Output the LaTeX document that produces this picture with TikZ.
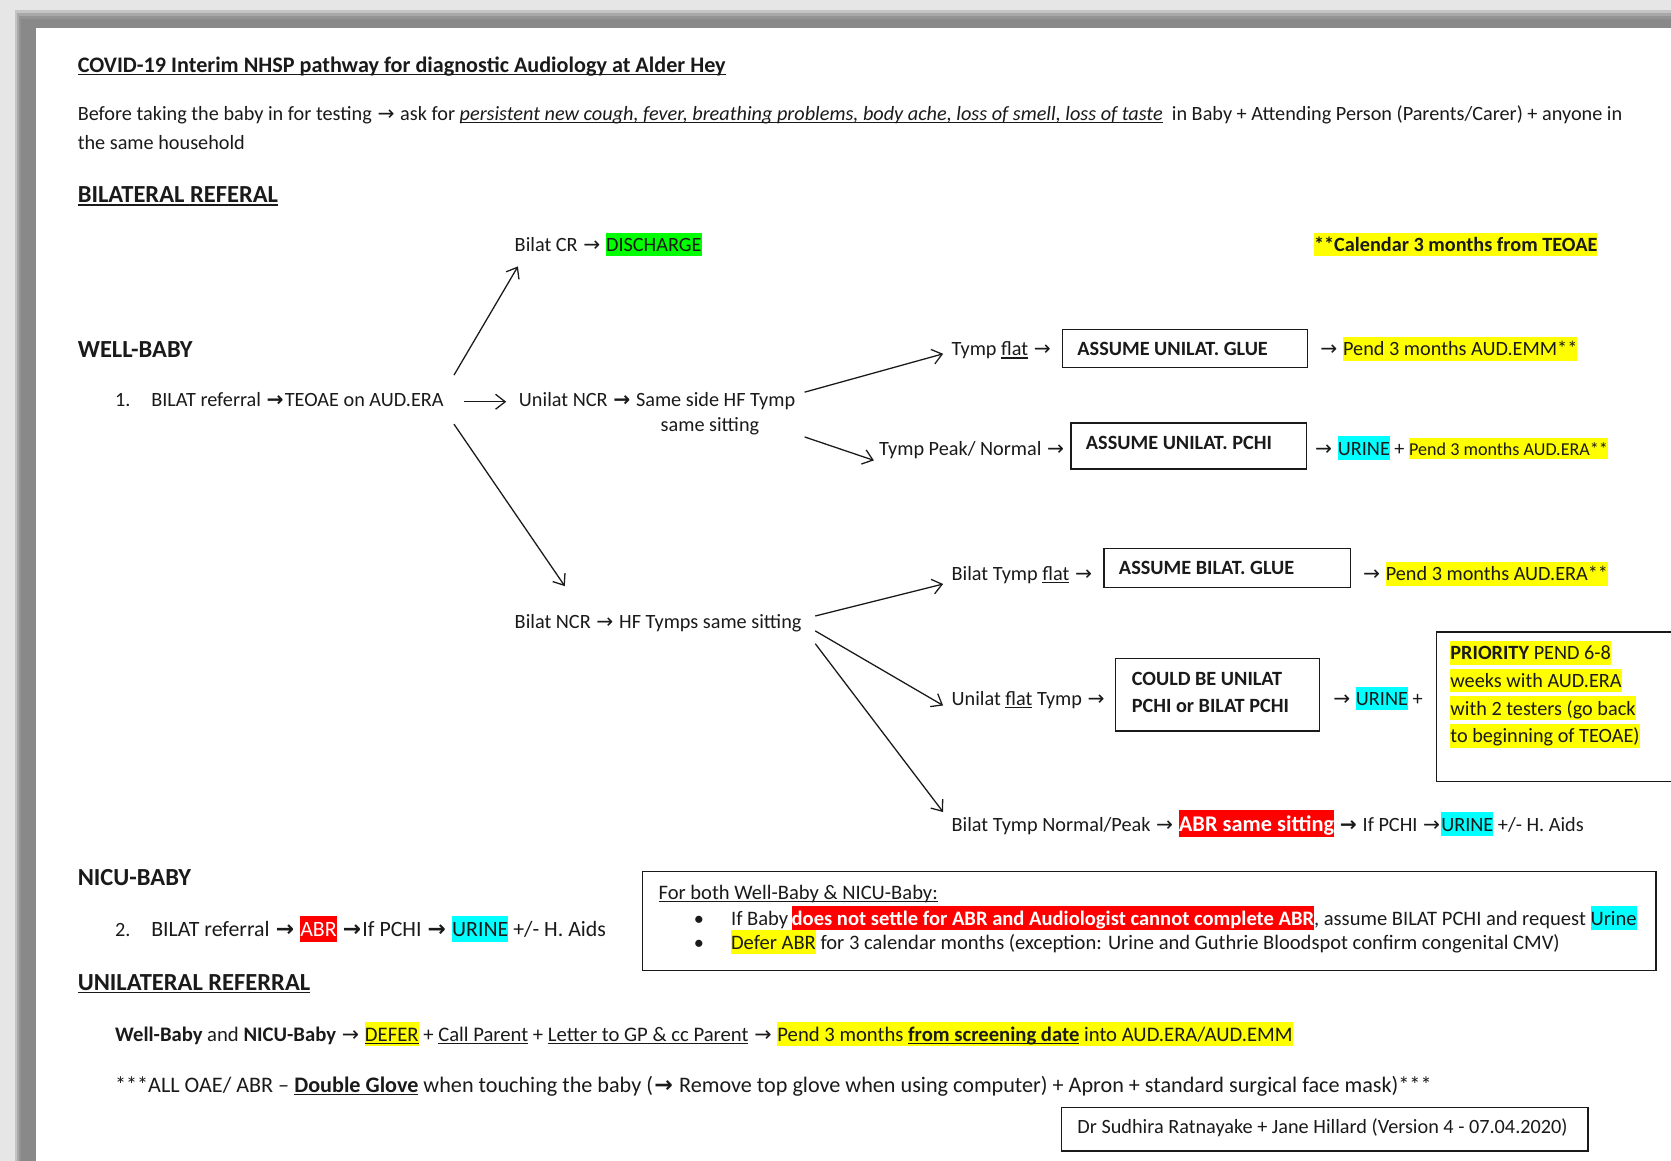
\documentclass[tikz,border=0pt]{standalone}
\usepackage{fontspec}
\setmainfont{Carlito}
\newfontfamily\arrfont[Scale=1.0]{DejaVu Sans}
\usetikzlibrary{arrows.meta}
\definecolor{hlyellow}{HTML}{FFFF00}
\definecolor{hlcyan}{HTML}{00FFFF}
\definecolor{hlgreen}{HTML}{00FF00}
\definecolor{hlred}{HTML}{FF0000}
\definecolor{bggray}{HTML}{E6E6E6}
\definecolor{ink}{HTML}{1A1A1A}
\definecolor{sh1}{HTML}{C4C4C4}
\definecolor{sh2}{HTML}{A8A8A8}
\definecolor{sh3}{HTML}{939393}
\definecolor{sh4}{HTML}{898989}
\newcommand\ra{\makebox[0.95em][c]{\arrfont →}}
\newcommand\rab{\makebox[0.95em][c]{\arrfont\bfseries →}}
\newcommand\hl[2]{{\setlength{\fboxsep}{0pt}\colorbox{#1}{\rule[-0.24em]{0pt}{1.17em}#2}}}
\newcommand\uln[1]{{\setbox0=\hbox{#1}\rlap{\rule[-0.13em]{\wd0}{0.055em}}\box0}}
\newcommand\fsn{\fontsize{19}{23}\selectfont}
\newcommand\fsb{\fontsize{19.3}{23}\selectfont}
\newcommand\fsl{\fontsize{20.8}{25}\selectfont}
\newcommand\fsh{\fontsize{23}{27}\selectfont\bfseries}
\tikzset{
  txt/.style={anchor=base west, inner sep=0pt, outer sep=0pt, font=\fsn, text=ink},
  hd/.style={txt, font=\fsh},
  tbox/.style={draw=ink, line width=1.2pt, anchor=north west, inner sep=0pt, outer sep=0pt},
  conn/.style={draw=ink, line width=1.2pt, -{Straight Barb[length=9pt,width=14pt]}}
}
\begin{document}
\begin{tikzpicture}[x=1pt,y=-1pt]
\useasboundingbox (0,0) rectangle (1568,1089);
% background and page
\fill[bggray] (0,0) rectangle (1568,1089);
\fill[sh1] (14,9) rectangle (1568,1089);
\fill[sh2] (16,12) rectangle (1568,1089);
\fill[sh3] (18,15) rectangle (1568,1089);
\fill[sh4] (20,18) rectangle (1568,1089);
\fill[white] (34,26) rectangle (1568,1089);

% header texts
\node[txt,font=\fsl\bfseries] (title) at (73,68) {\uln{COVID-19 Interim NHSP pathway for diagnostic Audiology at Alder Hey}};
\node[txt] (before) at (73,113) {Before taking the baby in for testing \ra{} ask for \uln{\itshape persistent new cough, fever, breathing problems, body ache, loss of smell, loss of taste}\ \ in Baby + Attending Person (Parents/Carer) + anyone in};
\node[txt] (before2) at (73,140) {the same household};
\node[hd] (bilhead) at (73,190) {\uln{BILATERAL REFERAL}};

\node[txt] (bilcr) at (483,236) {Bilat CR \ra{} \hl{hlgreen}{DISCHARGE}};
\node[txt,font=\fsn\bfseries] (cal) at (1233,236) {\hl{hlyellow}{**Calendar 3 months from TEOAE}};

\node[hd] (wellhead) at (73,335) {WELL-BABY};
\node[txt] (num1) at (108,381) {1.};
\node[txt] (teoae) at (142,381) {BILAT referral \rab TEOAE on AUD.ERA};
\node[txt] (unilat) at (487,381) {Unilat NCR \rab{} Same side HF Tymp};
\node[txt] (unilat2) at (620,405) {same sitting};

\node[txt] (tflat) at (893,334) {Tymp \uln{flat} \ra};
\node[tbox, minimum width=230, minimum height=36] (b1) at (997,309) {};
\node[txt,font=\fsn\bfseries] (b1t) at (1011,334) {ASSUME UNILAT. GLUE};
\node[txt] (pend1) at (1238,334) {\ra{} \hl{hlyellow}{Pend 3 months AUD.EMM**}};

\node[txt] (tpeak) at (825,427) {Tymp Peak/ Normal \ra};
\node[tbox, minimum width=221, minimum height=43] (b2) at (1005,397) {};
\node[txt,font=\fsn\bfseries] (b2t) at (1019,422) {ASSUME UNILAT. PCHI};
\node[txt] (pend2) at (1233,427) {\ra{} \hl{hlcyan}{URINE} + {\fontsize{17}{20}\selectfont\hl{hlyellow}{Pend 3 months AUD.ERA**}}};

\node[txt] (bilncr) at (483,590) {Bilat NCR \ra{} HF Tymps same sitting};

\node[txt] (btflat) at (893,545) {Bilat Tymp \uln{flat} \ra};
\node[tbox, minimum width=231, minimum height=36] (b3) at (1036,515) {};
\node[txt,font=\fsn\bfseries] (b3t) at (1050,539) {ASSUME BILAT. GLUE};
\node[txt] (pend3) at (1278,545) {\ra{} \hl{hlyellow}{Pend 3 months AUD.ERA**}};

\node[txt] (uflat) at (893,662) {Unilat \uln{flat} Tymp \ra};
\node[tbox, minimum width=191, minimum height=68] (b4) at (1047,618) {};
\node[txt,font=\fsn\bfseries] (b4t1) at (1062,643) {COULD BE UNILAT};
\node[txt,font=\fsn\bfseries] (b4t2) at (1062,669) {PCHI or BILAT PCHI};
\node[txt] (urine4) at (1250,662) {\ra{} \hl{hlcyan}{URINE} +};

\node[tbox, minimum width=232, minimum height=140] (b5) at (1348,593) {};
\node[txt] (b5t1) at (1361,619) {\hl{hlyellow}{\textbf{PRIORITY} PEND 6-8}};
\node[txt] (b5t2) at (1361,645) {\hl{hlyellow}{weeks with AUD.ERA}};
\node[txt] (b5t3) at (1361,671) {\hl{hlyellow}{with 2 testers (go back}};
\node[txt] (b5t4) at (1361,697) {\hl{hlyellow}{to beginning of TEOAE)}};

\node[txt] (btnorm) at (893,780) {Bilat Tymp Normal/Peak \ra{} {\fontsize{21}{24}\selectfont\hl{hlred}{\color{white}\bfseries ABR same sitting}} \rab{} If PCHI \ra\hl{hlcyan}{URINE} +/- H. Aids};

% NICU
\node[hd] (nicuhead) at (73,831) {NICU-BABY};
\node[txt] (num2) at (108,879) {2.};
\node[txt,font=\fontsize{20.5}{24}\selectfont] (nicu) at (142,879) {BILAT referral \rab{} \hl{hlred}{\color{white}ABR} \rab If PCHI \rab{} \hl{hlcyan}{URINE} +/- H. Aids};

\node[tbox, minimum width=951, minimum height=93] (b6) at (603,818) {};
\node[txt,font=\fsb] (b6h) at (618,844) {\uln{For both Well-Baby \& NICU-Baby:}};
\node[txt] (bul1) at (651,868) {•};
\node[txt,font=\fsb] (b6l1) at (686,868) {If Baby\,\hl{hlred}{\color{white}\bfseries does not settle for ABR and Audiologist cannot complete ABR}, assume BILAT PCHI and request \hl{hlcyan}{Urine}};
\node[txt] (bul2) at (651,891) {•};
\node[txt,font=\fsb] (b6l2) at (686,891) {\hl{hlyellow}{Defer ABR} for 3 calendar months (exception: Urine and Guthrie Bloodspot confirm congenital CMV)};

\node[hd] (unihead) at (73,929) {\uln{UNILATERAL REFERRAL}};
\node[txt,font=\fontsize{19.4}{23}\selectfont] (uniline) at (108,977) {\textbf{Well-Baby} and \textbf{NICU-Baby} \ra{} \hl{hlyellow}{\uln{DEFER}} + \uln{Call Parent} + \uln{Letter to GP \& cc Parent} \ra{} \hl{hlyellow}{Pend 3 months \uln{\bfseries from screening date} into AUD.ERA/AUD.EMM}};
\node[txt,font=\fsl] (allline) at (108,1025) {***ALL OAE/ ABR – \uln{\bfseries Double Glove} when touching the baby (\rab{} Remove top glove when using computer) + Apron + standard surgical face mask)***};

\node[tbox, minimum width=494, minimum height=41] (b7) at (996,1039) {};
\node[txt] (b7t) at (1011,1064) {Dr Sudhira Ratnayake + Jane Hillard (Version 4 - 07.04.2020)};

% connectors
\coordinate (a1s) at (426,352); \coordinate (a1e) at (486,250);
\coordinate (a2s) at (435,377); \coordinate (a2e) at (475,377);
\coordinate (a3s) at (426,398); \coordinate (a3e) at (530,550);
\coordinate (a4s) at (755,368); \coordinate (a4e) at (885,332);
\coordinate (a5s) at (755,410); \coordinate (a5e) at (820,432);
\coordinate (a6s) at (765,578); \coordinate (a6e) at (885,548);
\coordinate (a7s) at (765,592); \coordinate (a7e) at (885,662);
\coordinate (a8s) at (765,604); \coordinate (a8e) at (885,762);
\draw[conn] (a1s) -- (a1e);
\draw[conn] (a2s) -- (a2e);
\draw[conn] (a3s) -- (a3e);
\draw[conn] (a4s) -- (a4e);
\draw[conn] (a5s) -- (a5e);
\draw[conn] (a6s) -- (a6e);
\draw[conn] (a7s) -- (a7e);
\draw[conn] (a8s) -- (a8e);
\end{tikzpicture}
\end{document}
